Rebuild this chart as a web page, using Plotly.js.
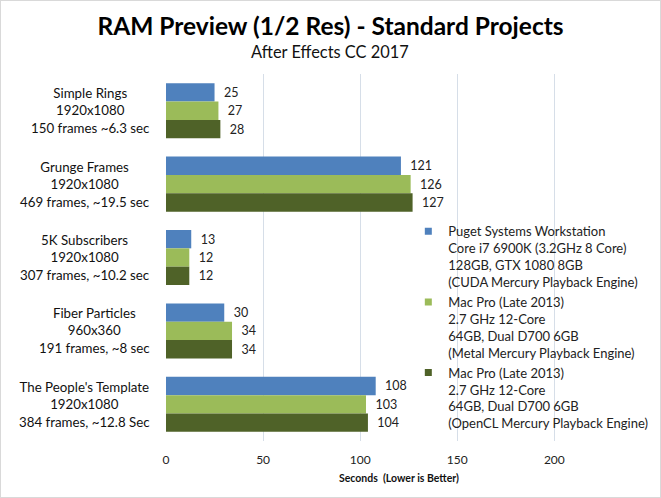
<!DOCTYPE html>
<html><head><meta charset="utf-8">
<script src="https://cdn.plot.ly/plotly-3.0.1.min.js"></script>
<style>
html,body{margin:0;padding:0;background:#fff}
#chart{width:661px;height:498px}
#frame{position:absolute;left:0;top:0;width:661px;height:498px;box-sizing:border-box;border:1px solid #d9d9d9;pointer-events:none}
</style>
</head><body><div id="chart"></div><div id="frame"></div>
<script>
const categories = ["Simple Rings", "Grunge Frames", "5K Subscribers", "Fiber Particles", "The People's Template"];
const resolutions = ["1920x1080", "1920x1080", "1920x1080", "960x360", "1920x1080"];
const durations = ["150 frames ~6.3 sec", "469 frames, ~19.5 sec", "307 frames, ~10.2 sec", "191 frames, ~8 sec", "384 frames, ~12.8 Sec"];
const seriesNames = [
  "Puget Systems Workstation<br>Core i7 6900K (3.2GHz 8 Core)<br>128GB, GTX 1080 8GB<br>(CUDA Mercury Playback Engine)",
  "Mac Pro (Late 2013)<br>2.7 GHz 12-Core<br>64GB, Dual D700 6GB<br>(Metal Mercury Playback Engine)",
  "Mac Pro (Late 2013)<br>2.7 GHz 12-Core<br>64GB, Dual D700 6GB<br>(OpenCL Mercury Playback Engine)"
];
const pugetValues = [25, 121, 13, 30, 108];
const macMetalValues = [27, 126, 12, 34, 103];
const macOpenCLValues = [28, 127, 12, 34, 104];
const xTickValues = [0, 50, 100, 150, 200];
const titleText = "RAM Preview (1/2 Res) - Standard Projects";
const subtitleText = "After Effects CC 2017";
const xAxisTitle = "Seconds  (Lower is Better)";

const seriesValues = [pugetValues, macMetalValues, macOpenCLValues];
const colors = ["#4F81BD", "#9BBB59", "#4F6228"];
const FONT = "Lato, 'Open Sans', sans-serif";

const traces = [];
seriesValues.forEach((vals, i) => {
  traces.push({
    type: "bar", orientation: "h",
    x: vals, y: categories,
    marker: {color: colors[i]},
    text: vals.map(String),
    texttemplate: "\u00a0\u00a0%{text}",
    textposition: "outside",
    textfont: {family: FONT, size: 12.5, color: "#222"},
    cliponaxis: false,
    showlegend: false,
    hoverinfo: "x+y"
  });
});
seriesNames.forEach((name, i) => {
  traces.push({
    type: "scatter", mode: "markers",
    x: [null], y: [null],
    name: name,
    marker: {symbol: "square", size: 7, color: colors[i]},
    showlegend: true
  });
});

const annotations = categories.map((c, i) => ({
  xref: "paper", yref: "y",
  x: -0.029, y: c,
  xanchor: "right", yanchor: "middle",
  align: "center",
  text: c + "<br>" + resolutions[i] + "<br>" + durations[i],
  showarrow: false,
  font: {family: FONT, size: 13.3, color: "#111"}
}));
annotations.push({
  xref: "paper", yref: "paper", x: 0.353, y: 1.06,
  xanchor: "center", yanchor: "middle",
  text: subtitleText, showarrow: false,
  font: {family: FONT, size: 16.4, color: "#111"}
});
annotations.push({
  xref: "paper", yref: "paper", x: 0.5, y: -0.1,
  xanchor: "center", yanchor: "middle",
  text: "<b>" + xAxisTitle + "</b>", showarrow: false,
  font: {family: FONT, size: 10.5, color: "#111"}
});

const layout = {
  width: 661, height: 498,
  paper_bgcolor: "#fff", plot_bgcolor: "#fff",
  margin: {l: 166, r: 29, t: 74, b: 57, autoexpand: false},
  title: {
    text: "<b>" + titleText + "</b>",
    font: {family: FONT, size: 24.5, color: "#000"},
    x: 0.5, xref: "container", xanchor: "center",
    y: 0.946, yref: "container", yanchor: "middle"
  },
  barmode: "group", bargap: 0.25, bargroupgap: 0,
  xaxis: {
    range: [0, 240], tickvals: xTickValues,
    showgrid: true, gridcolor: "#D6DEE8", gridwidth: 1,
    zeroline: false, showline: false, ticks: "",
    ticklabelstandoff: 10,
    tickfont: {family: FONT, size: 12, color: "#222"}
  },
  yaxis: {
    type: "category", autorange: "reversed",
    showticklabels: false, showgrid: false, zeroline: false, showline: false, ticks: ""
  },
  legend: {
    x: 0.52, y: 0.612, xanchor: "left", yanchor: "top",
    bgcolor: "rgba(0,0,0,0)", valign: "top",
    font: {family: FONT, size: 13, color: "#222"},
    itemwidth: 30, tracegroupgap: 0
  },
  annotations: annotations,
  showlegend: true
};

Plotly.newPlot("chart", traces, layout, {displayModeBar: false, staticPlot: true});
</script>
</body></html>
